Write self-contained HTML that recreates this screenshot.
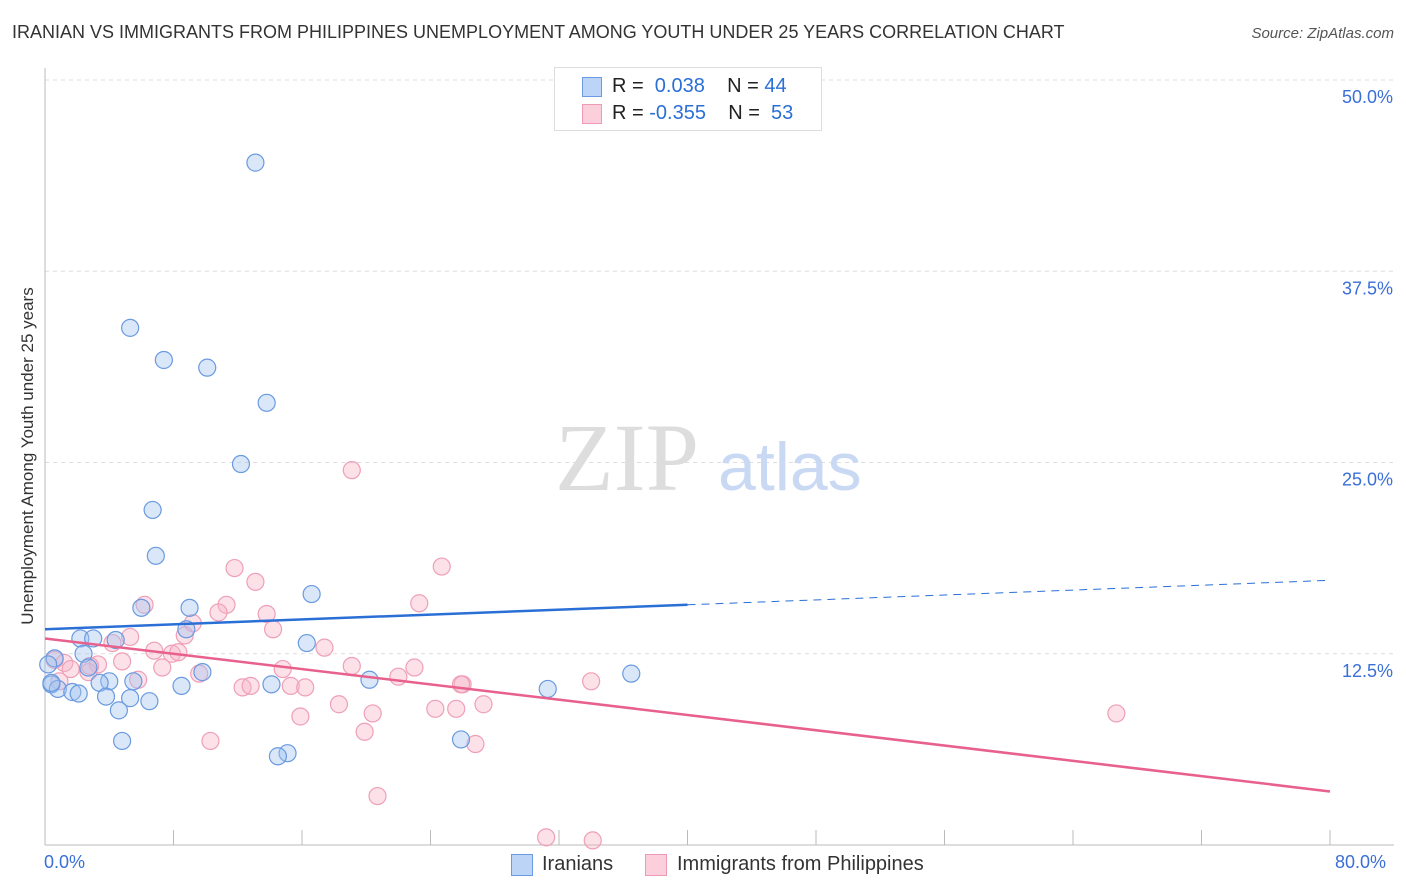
<!DOCTYPE html>
<html><head><meta charset="utf-8"><style>
body{margin:0;background:#fff;font-family:"Liberation Sans",sans-serif}
#wrap{position:relative;width:1406px;height:892px}
.t{position:absolute;white-space:nowrap}
</style></head><body>
<div id="wrap">
<div class="t" style="left:12px;top:22px;font-size:18px;color:#333">IRANIAN VS IMMIGRANTS FROM PHILIPPINES UNEMPLOYMENT AMONG YOUTH UNDER 25 YEARS CORRELATION CHART</div>
<div class="t" style="right:12px;top:25px;font-size:15px;color:#555;font-style:italic">Source: ZipAtlas.com</div>
<div class="t" style="left:28px;top:456px;font-size:17px;color:#333;transform:translate(-50%,-50%) rotate(-90deg)">Unemployment Among Youth under 25 years</div>
<svg id="svg" width="1406" height="892" style="position:absolute;left:0;top:0"></svg>
</div>
<script>
const blueX=[13.1,5.3,7.4,10.1,13.8,12.2,6.7,6.9,16.6,6.0,9.0,8.8,2.2,3.0,4.4,16.3,2.4,0.6,9.8,36.5,4.0,5.5,3.4,20.2,0.4,0.8,8.5,14.1,31.3,1.7,2.1,3.8,5.3,6.5,4.6,4.8,25.9,15.1,14.5,0.4,2.7,0.2];
const blueY=[44.6,33.8,31.7,31.2,28.9,24.9,21.9,18.9,16.4,15.5,15.5,14.1,13.5,13.5,13.4,13.2,12.5,12.2,11.3,11.2,10.7,10.7,10.6,10.8,10.5,10.2,10.4,10.5,10.2,10.0,9.9,9.7,9.6,9.4,8.8,6.8,6.9,6.0,5.8,10.6,11.6,11.8];
const pinkX=[19.1,11.8,24.7,13.1,6.2,11.3,23.3,10.8,13.8,9.2,14.2,8.7,5.3,4.2,6.8,17.4,7.9,8.3,4.8,3.3,1.2,0.6,1.6,2.7,7.3,19.1,14.8,23.0,9.6,22.0,5.8,34.0,26.0,12.3,12.8,15.3,16.2,25.9,27.3,24.3,25.6,18.3,20.4,15.9,66.7,10.3,19.9,26.8,20.7,31.2,34.1,2.8,0.9];
const pinkY=[24.5,18.1,18.2,17.2,15.7,15.7,15.8,15.2,15.1,14.5,14.1,13.7,13.6,13.2,12.7,12.9,12.5,12.6,12.0,11.8,11.9,12.1,11.5,11.3,11.6,11.7,11.5,11.6,11.2,11.0,10.8,10.7,10.5,10.3,10.4,10.4,10.3,10.5,9.2,8.9,8.9,9.2,8.6,8.4,8.6,6.8,7.4,6.6,3.2,0.5,0.3,11.7,10.7];
const yTicks=[12.5,25,37.5,50];
const yTickLabels=["12.5%","25.0%","37.5%","50.0%"];
const blueFit=[14.1,15.7,17.3]; // at x=0, 40, 80
const pinkFit=[13.5,3.5]; // at x=0, 80
const X=v=>45+v/80*1285, Y=v=>845-v/50*765;
const svg=document.getElementById('svg');const NS='http://www.w3.org/2000/svg';
function mk(t,a,p){const e=document.createElementNS(NS,t);for(const k in a)e.setAttribute(k,a[k]);(p||svg).appendChild(e);return e;}
yTicks.forEach((v,i)=>{const l=mk('line',{x1:45,x2:1394,y1:Y(v),y2:Y(v),stroke:'#ddd','stroke-dasharray':'4,4'});


const t=mk('text',{x:1393,y:Y(v)+23,'text-anchor':'end','font-size':18,fill:'#3a6fd8','font-family':'Liberation Sans'});t.textContent=yTickLabels[i];

});
mk('line',{x1:45,x2:45,y1:68,y2:845,stroke:'#bbb'});
mk('line',{x1:45,x2:1394,y1:845,y2:845,stroke:'#bbb'});
for(let i=0;i<=10;i++){const x=45+i*128.5;mk('line',{x1:x,x2:x,y1:830,y2:845,stroke:'#bbb'});}
const wm=mk('text',{x:555,y:490,'font-size':96,fill:'#ddd','font-family':'Liberation Serif'});wm.textContent='ZIP';

const wm2=mk('text',{x:718,y:490,'font-size':68,fill:'#c9d9f3','font-family':'Liberation Sans'});wm2.textContent='atlas';

pinkX.forEach((v,i)=>{const c=mk('circle',{cx:X(v),cy:Y(pinkY[i]),r:8.5,fill:'rgba(248,180,200,0.4)',stroke:'#ef9fb8','stroke-width':1.2});

});
blueX.forEach((v,i)=>{const c=mk('circle',{cx:X(v),cy:Y(blueY[i]),r:8.5,fill:'rgba(160,195,240,0.4)',stroke:'#6a9ae0','stroke-width':1.2});

});
const bl=mk('line',{x1:X(0),y1:Y(blueFit[0]),x2:X(40),y2:Y(blueFit[1]),stroke:'#2a6fd6','stroke-width':2.5});

const bd=mk('line',{x1:X(40),y1:Y(blueFit[1]),x2:X(80),y2:Y(blueFit[2]),stroke:'#2a6fd6','stroke-width':1,'stroke-dasharray':'8,6'});

const pl=mk('line',{x1:X(0),y1:Y(pinkFit[0]),x2:X(80),y2:Y(pinkFit[1]),stroke:'#e8608c','stroke-width':2.5});

</script>
<div class="t" style="left:44px;top:852px;font-size:18px;color:#3a6fd8">0.0%</div>
<div class="t" style="left:1335px;top:852px;font-size:18px;color:#3a6fd8">80.0%</div>
<div style="position:absolute;left:554px;top:67px;width:266px;height:62px;border:1px solid #ddd;background:#fff;font-size:20px;color:#222">
<div style="position:absolute;left:27px;top:9px;width:18px;height:18px;background:#bcd5f6;border:1px solid #6a9ae0"></div>
<div class="t" style="left:57px;top:7px">R = <span style="color:#2a6fd6">&nbsp;0.038</span>&nbsp;&nbsp;&nbsp;&nbsp;N = <span style="color:#2a6fd6">44</span></div>
<div style="position:absolute;left:27px;top:36px;width:18px;height:18px;background:#fbd0dc;border:1px solid #ee9ab4"></div>
<div class="t" style="left:57px;top:34px">R = <span style="color:#2a6fd6">-0.355</span>&nbsp;&nbsp;&nbsp;&nbsp;N = <span style="color:#2a6fd6">&nbsp;53</span></div>
</div>
<div style="position:absolute;left:511px;top:853px;font-size:20px;color:#333">
<div style="position:absolute;left:0;top:1px;width:20px;height:20px;background:#bcd5f6;border:1px solid #6a9ae0"></div>
<div class="t" style="left:31px;top:0">Iranians</div></div>
<div style="position:absolute;left:645px;top:853px;font-size:20px;color:#333">
<div style="position:absolute;left:0;top:1px;width:20px;height:20px;background:#fbd0dc;border:1px solid #ee9ab4"></div>
<div class="t" style="left:32px;top:0">Immigrants from Philippines</div></div>
</body></html>
